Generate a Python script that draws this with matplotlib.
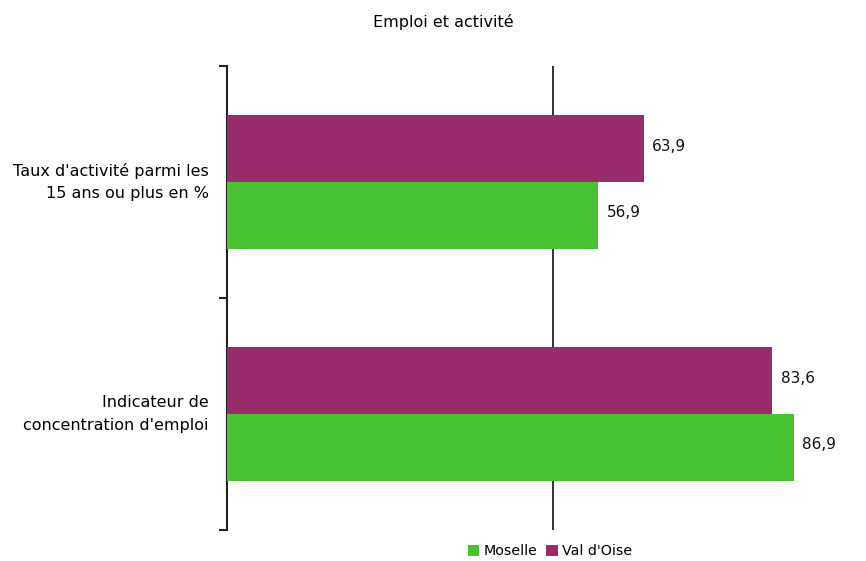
import matplotlib.pyplot as plt
import numpy as np

categories = ["Indicateur de\nconcentration d'emploi",
              "Taux d'activité parmi les\n15 ans ou plus en %"]
moselle = [86.9, 56.9]
val_doise = [83.6, 63.9]
series_names = ["Moselle", "Val d'Oise"]

GREEN = "#48c230"
PURPLE = "#982b6a"


def fmt(v):
    return "{:.1f}".format(v).replace(".", ",")


def main():
    plt.rcParams["font.family"] = ["DejaVu Sans"]
    fig = plt.figure(figsize=(8.66, 5.61), dpi=100)
    ax = fig.add_axes([227 / 866, 1 - 530 / 561, 652 / 866, 464 / 561])

    y = np.arange(len(categories))
    h = 0.287
    b1 = ax.barh(y - h / 2, moselle, height=h, color=GREEN, zorder=3,
                 label=series_names[0])
    b2 = ax.barh(y + h / 2, val_doise, height=h, color=PURPLE, zorder=3,
                 label=series_names[1])

    # valeurs affichées au bout des barres, un peu au-dessus du centre
    for bars, vals in ((b1, moselle), (b2, val_doise)):
        for bar, v in zip(bars, vals):
            ax.text(v + 1.3, bar.get_y() + bar.get_height() / 2 + 0.01,
                    fmt(v), va="center", ha="left", fontsize=11,
                    color="#111111")

    ax.set_xlim(0, 100)
    ax.set_ylim(-0.5, 1.5)
    ax.axvline(50, color="#222222", lw=1.3, zorder=1)

    for side in ("top", "right", "bottom"):
        ax.spines[side].set_visible(False)
    ax.spines["left"].set_linewidth(1.5)
    ax.spines["left"].set_color("#222222")
    ax.set_xticks([])

    ax.set_yticks([-0.5, 0.5, 1.5])
    ax.set_yticklabels([])
    ax.set_yticks(y, minor=True)
    ax.set_yticklabels(categories, minor=True, fontsize=11.5, ha="right",
                       va="center", multialignment="right", linespacing=1.65)
    ax.tick_params(axis="y", which="major", length=6, width=1.5,
                   color="#222222")
    ax.tick_params(axis="y", which="minor", length=0, pad=13)

    fig.text(443 / 866, 1 - 22 / 561, "Emploi et activité", ha="center",
             va="center", fontsize=11.5)

    fig.legend(handles=[b1, b2], loc="center",
               bbox_to_anchor=(550 / 866, 1 - 551 / 561), ncol=2,
               frameon=False, fontsize=10.3, handlelength=0.8,
               handleheight=0.8, handletextpad=0.3, columnspacing=0.6)

    fig.savefig("out.png", dpi=100)


if __name__ == "__main__":
    main()
